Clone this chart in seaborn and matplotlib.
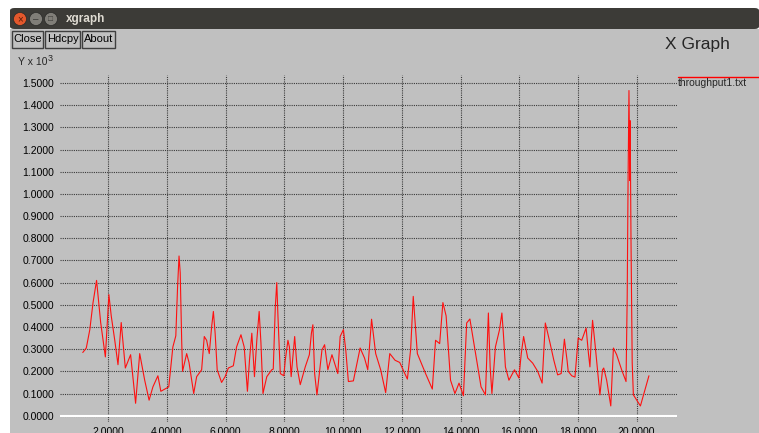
import numpy as np
import pandas as pd
import matplotlib
matplotlib.use("Agg")
import matplotlib.pyplot as plt
from matplotlib.patches import Rectangle, Ellipse, FancyBboxPatch
from matplotlib.lines import Line2D
import seaborn as sns

# ===========================
# DATA
# ===========================
time_s = [
    1.13, 1.25, 1.37, 1.48, 1.60, 1.74, 1.90, 2.02, 2.10, 2.22,
    2.33, 2.44, 2.58, 2.76, 2.93, 3.07, 3.24, 3.39, 3.52, 3.69,
    3.79, 3.98, 4.06, 4.20, 4.30, 4.36, 4.41, 4.45, 4.50, 4.53,
    4.67, 4.75, 4.91, 5.01, 5.18, 5.27, 5.35, 5.44, 5.52, 5.58,
    5.64, 5.71, 5.86, 5.98, 6.09, 6.26, 6.37, 6.52, 6.63, 6.74,
    6.81, 6.89, 6.98, 7.06, 7.14, 7.20, 7.27, 7.40, 7.57, 7.62,
    7.69, 7.74, 7.78, 7.86, 7.98, 8.03, 8.12, 8.17, 8.23, 8.35,
    8.43, 8.54, 8.71, 8.85, 8.92, 8.97, 9.03, 9.11, 9.28, 9.37,
    9.48, 9.62, 9.82, 9.90, 10.01, 10.09, 10.18, 10.35, 10.58, 10.73,
    10.84, 10.97, 11.11, 11.28, 11.45, 11.59, 11.77, 11.93, 12.19, 12.30,
    12.39, 12.53, 12.81, 13.04, 13.15, 13.29, 13.40, 13.51, 13.66, 13.81,
    13.95, 14.10, 14.21, 14.32, 14.44, 14.59, 14.70, 14.85, 14.95, 15.01,
    15.07, 15.19, 15.33, 15.41, 15.46, 15.53, 15.65, 15.84, 15.99, 16.07,
    16.15, 16.29, 16.46, 16.63, 16.78, 16.89, 17.05, 17.18, 17.31, 17.43,
    17.54, 17.63, 17.67, 17.79, 17.90, 18.01, 18.13, 18.28, 18.36, 18.41,
    18.45, 18.50, 18.58, 18.66, 18.75, 18.84, 18.88, 18.98, 19.12, 19.21,
    19.32, 19.49, 19.64, 19.68, 19.71, 19.74, 19.77, 19.78, 19.81, 19.85,
    19.89, 20.13, 20.42,
]
throughput = [
    0.285, 0.305, 0.388, 0.510, 0.610, 0.420, 0.265, 0.546, 0.450, 0.340,
    0.230, 0.420, 0.215, 0.275, 0.056, 0.280, 0.160, 0.070, 0.130, 0.180,
    0.110, 0.124, 0.130, 0.310, 0.360, 0.580, 0.720, 0.645, 0.340, 0.200,
    0.280, 0.240, 0.100, 0.176, 0.207, 0.357, 0.340, 0.280, 0.400, 0.470,
    0.372, 0.207, 0.150, 0.176, 0.215, 0.225, 0.310, 0.365, 0.310, 0.110,
    0.250, 0.372, 0.176, 0.340, 0.470, 0.330, 0.100, 0.176, 0.207, 0.210,
    0.490, 0.600, 0.450, 0.190, 0.180, 0.250, 0.340, 0.310, 0.176, 0.357,
    0.220, 0.140, 0.220, 0.275, 0.372, 0.410, 0.190, 0.094, 0.297, 0.320,
    0.207, 0.275, 0.190, 0.357, 0.388, 0.297, 0.154, 0.157, 0.305, 0.260,
    0.207, 0.435, 0.280, 0.207, 0.104, 0.280, 0.250, 0.240, 0.165, 0.297,
    0.538, 0.280, 0.190, 0.120, 0.340, 0.325, 0.510, 0.450, 0.160, 0.100,
    0.147, 0.090, 0.418, 0.436, 0.340, 0.220, 0.130, 0.094, 0.463, 0.220,
    0.100, 0.310, 0.388, 0.463, 0.372, 0.220, 0.160, 0.207, 0.170, 0.280,
    0.357, 0.260, 0.237, 0.200, 0.147, 0.418, 0.328, 0.250, 0.184, 0.190,
    0.345, 0.250, 0.200, 0.180, 0.174, 0.350, 0.340, 0.395, 0.280, 0.220,
    0.330, 0.430, 0.328, 0.220, 0.094, 0.207, 0.215, 0.160, 0.044, 0.305,
    0.275, 0.207, 0.154, 0.540, 1.070, 1.466, 1.060, 1.330, 0.780, 0.240,
    0.094, 0.044, 0.180,
]
x_ticks = [2, 4, 6, 8, 10, 12, 14, 16, 18, 20]
y_ticks = [round(0.1 * i, 1) for i in range(16)]
series_name = "throughput1.txt"

# ===========================
# STYLE
# ===========================
W, H = 759, 433
BODY = "#c0c0c0"
BAR = "#3c3b37"

sns.set_style("white")
plt.rcParams["font.family"] = ["Liberation Sans", "DejaVu Sans"]

fig = plt.figure(figsize=(W / 100, H / 100), dpi=100)
fig.patch.set_facecolor("white")


def fx(px):
    return px / W


def fy(py):
    return 1 - py / H


# window body + title bar
fig.add_artist(Rectangle((fx(10), 0), 1 - fx(10), fy(29), transform=fig.transFigure,
                         facecolor=BODY, edgecolor="none", zorder=0))
fig.add_artist(FancyBboxPatch((fx(10), fy(29)), 1 - fx(10), fy(8) - fy(29),
                              boxstyle="round,pad=0,rounding_size=0.006",
                              transform=fig.transFigure, facecolor=BAR,
                              edgecolor="none", zorder=0))
for cx, col in [(20, "#e3582c"), (36, "#807e78"), (51, "#807e78")]:
    fig.add_artist(Ellipse((fx(cx), fy(19)), 13 / W, 13 / H, transform=fig.transFigure,
                           facecolor=col, edgecolor="#2a2a28", lw=0.5, zorder=1))
fig.text(fx(20), fy(19.5), "×", color="#5a1a08", fontsize=7, ha="center", va="center")
fig.text(fx(36), fy(19.5), "–", color="#3c3b37", fontsize=7, ha="center", va="center")
fig.text(fx(51), fy(19.5), "□", color="#3c3b37", fontsize=6, ha="center", va="center")
fig.text(fx(66), fy(19), "xgraph", color="#dfdbd2", fontsize=8.5,
         fontweight="bold", ha="left", va="center")

# buttons
for x0, x1, label in [(12, 43, "Close"), (45, 80, "Hdcpy"), (82, 115, "About")]:
    fig.add_artist(Rectangle((fx(x0), fy(48)), fx(x1) - fx(x0), fy(31) - fy(48),
                             transform=fig.transFigure, facecolor=BODY,
                             edgecolor="#404040", lw=1.0, zorder=1))
    fig.text(fx((x0 + x1) / 2), fy(39.5), label, fontsize=8, ha="center",
             va="center", color="black")

fig.text(fx(18), fy(62), "Y x 10", fontsize=7.5, ha="left", va="center")
fig.text(fx(47.5), fy(58.5), "3", fontsize=6.5, ha="left", va="center")
fig.text(fx(665), fy(45), "X Graph", fontsize=12.5, ha="left", va="center")

# ===========================
# PLOT AREA
# ===========================
px_per_x = 29.35
px_per_y = 221.8
x_left = 2 + (60 - 108.3) / px_per_x
x_right = 2 + (677 - 108.3) / px_per_x
y_bot = (415.7 - 422.4) / px_per_y
y_top = (415.7 - 75) / px_per_y

ax = fig.add_axes([fx(60), fy(422.4), fx(677) - fx(60), fy(75) - fy(422.4)])
ax.set_facecolor(BODY)
for s in ax.spines.values():
    s.set_visible(False)
ax.set_xlim(x_left, x_right)
ax.set_ylim(y_bot, y_top)

ax.set_xticks(x_ticks)
ax.set_xticklabels([f"{v:.4f}" for v in x_ticks])
ax.set_yticks(y_ticks)
ax.set_yticklabels([f"{v:.4f}" for v in y_ticks])
ax.tick_params(axis="both", length=0, labelsize=7.5, colors="black")
ax.tick_params(axis="x", pad=3)
ax.tick_params(axis="y", pad=4)

ax.grid(True, color="#3a3a3a", lw=0.8, linestyle=(0, (1, 1)))
ax.axhline(0, color="white", lw=1.5, zorder=2)

df = pd.DataFrame({"time": time_s, "throughput": throughput})
sns.lineplot(data=df, x="time", y="throughput", color="#ff1010", lw=0.8,
             sort=False, estimator=None, ax=ax, zorder=3)
ax.set_xlabel("")
ax.set_ylabel("")

# legend (outside the plot, xgraph style)
fig.add_artist(Line2D([fx(678), fx(759)], [fy(76.5), fy(76.5)],
                      transform=fig.transFigure, color="red", lw=1.0))
fig.text(fx(678), fy(83), series_name, fontsize=7.5, ha="left", va="center")

fig.savefig("out.png", dpi=100, facecolor=fig.get_facecolor())
